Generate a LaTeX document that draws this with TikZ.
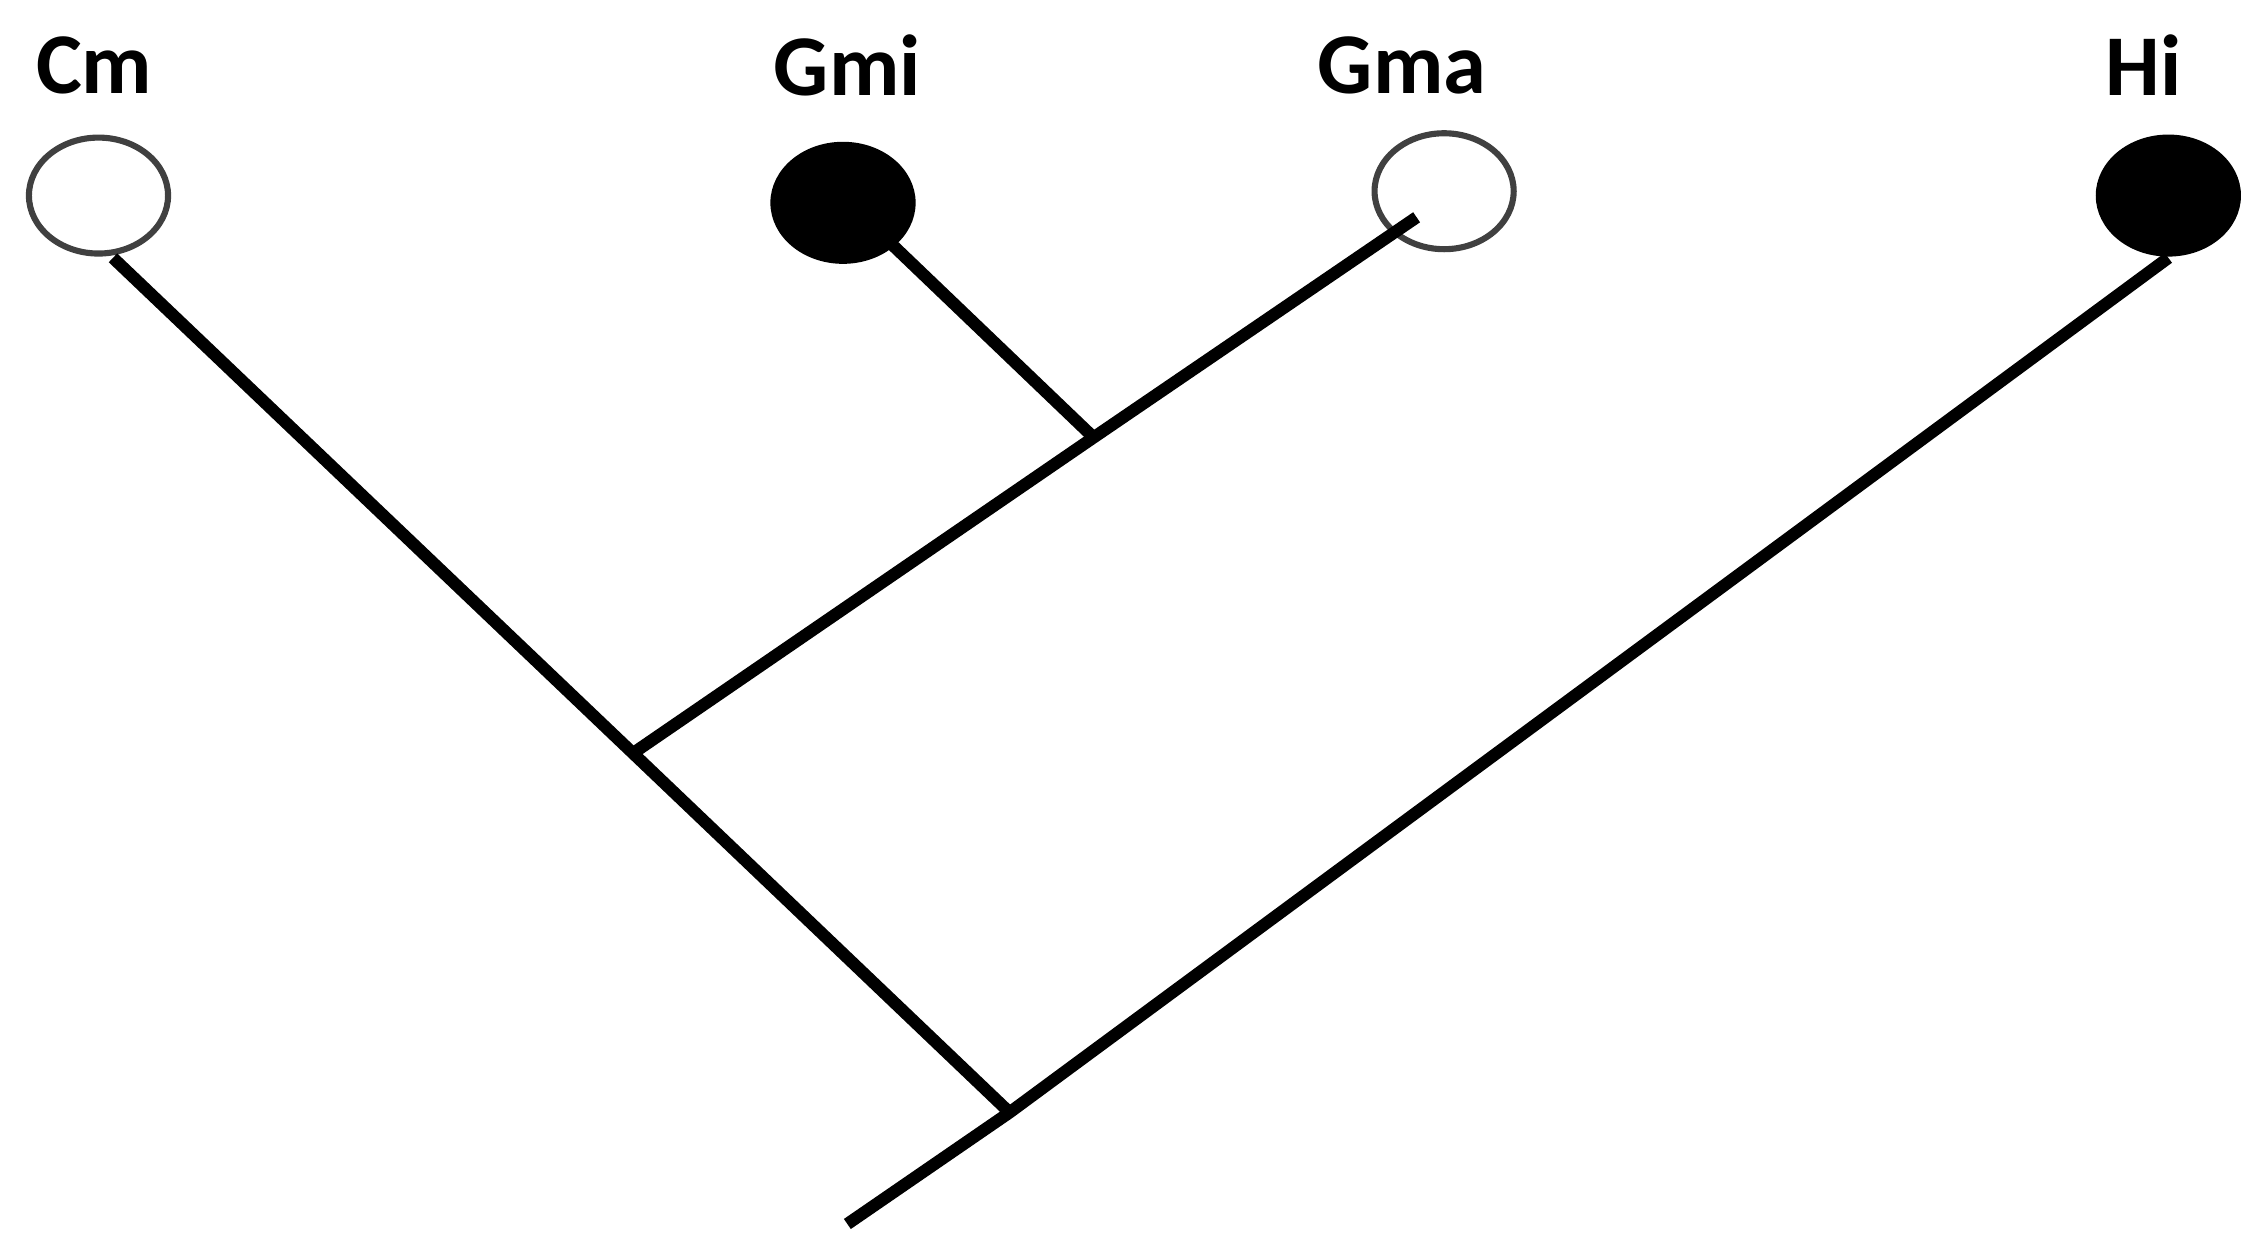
\documentclass[tikz,border=0pt]{standalone}
\usepackage{fontspec}
\setmainfont{Carlito}
\usetikzlibrary{shapes.geometric}
\begin{document}
\begin{tikzpicture}[x=0.01cm,y=-0.01cm,
  leaf/.style={ellipse,draw,line width=1.2pt,minimum width=0.96cm,minimum height=0.8cm,inner sep=0pt},
  open/.style={leaf,draw=black!75,fill=white},
  full/.style={leaf,fill=black},
  lbl/.style={font=\bfseries\fontsize{17}{19}\selectfont},
  br/.style={line width=2.4pt}]
\useasboundingbox (0,0) rectangle (1552,856);
\node[open] (cm) at (68,135) {};
\node[full] (gmi) at (582,140) {};
\node[open] (gma) at (997,132) {};
\node[full] (hi) at (1497,135) {};
\node[lbl] (lcm) at (65,45) {Cm};
\node[lbl] (lgmi) at (585,45) {Gmi};
\node[lbl] (lgma) at (968,45) {Gma};
\node[lbl] (lhi) at (1480,45) {Hi};
\coordinate (n1) at (755,302);
\coordinate (n2) at (437,520);
\coordinate (n3) at (697,768);
\coordinate (root) at (585,845);
\coordinate (ecm) at (78,178);
\coordinate (egmi) at (615,168);
\coordinate (egma) at (978,150);
\coordinate (ehi) at (1497,178);
\draw[br] (ecm) -- (n2) -- (n3);
\draw[br] (egmi) -- (n1);
\draw[br] (egma) -- (n1) -- (n2);
\draw[br] (ehi) -- (n3) -- (root);
\end{tikzpicture}
\end{document}
